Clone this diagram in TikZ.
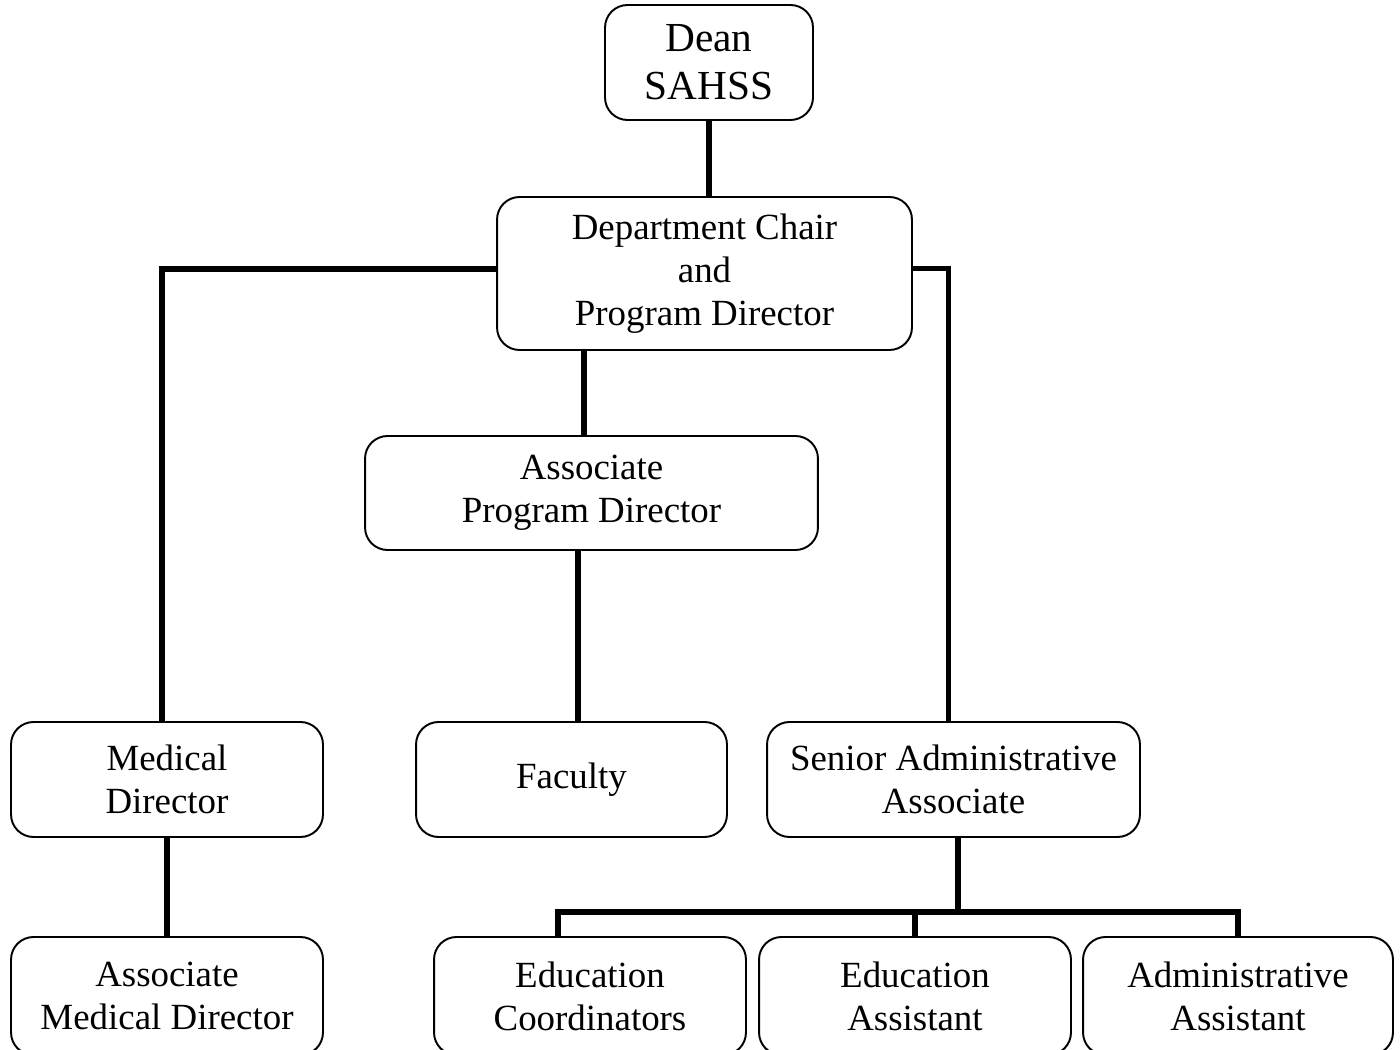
\documentclass[tikz,border=0pt]{standalone}
\usepackage{fontspec}
\setmainfont{Liberation Serif}

\begin{document}
\begin{tikzpicture}[x=0.02cm, y=-0.02cm, line join=miter,
        box/.style={draw, line width=1.1pt, rounded corners=0.45cm, fill=white,
            align=center, inner sep=0pt, font=\fontsize{21}{24.5}\selectfont},
        link/.style={line width=3.2pt}]

        \useasboundingbox (0,0) rectangle (1400,1050);

        % ==========================================
        % 1. Vertice: Dean e Department Chair
        % ==========================================
        \node[box, minimum width=4.16cm, minimum height=2.3cm,
              font=\fontsize{23.5}{27.5}\selectfont] (dean) at (709, 62.5) {Dean\\SAHSS};
        \node[box, minimum width=8.3cm, minimum height=3.06cm] (chair) at (704.5, 273.5)
            {Department Chair\\and\\Program Director};

        % ==========================================
        % 2. Livello intermedio
        % ==========================================
        \node[box, minimum width=9.06cm, minimum height=2.28cm] (apd) at (591.5, 493)
            {Associate\\Program Director};

        \node[box, minimum width=6.24cm, minimum height=2.3cm] (meddir) at (167, 779.5)
            {Medical\\Director};
        \node[box, minimum width=6.22cm, minimum height=2.3cm] (faculty) at (571.5, 779.5)
            {Faculty};
        \node[box, minimum width=7.46cm, minimum height=2.3cm] (senior) at (953.5, 779.5)
            {Senior Administrative\\Associate};

        % ==========================================
        % 3. Ultima riga (tagliata dal bordo inferiore)
        % ==========================================
        \node[box, minimum width=6.24cm, minimum height=2.36cm] (assocmed) at (167, 996)
            {Associate\\Medical Director};
        \node[box, minimum width=6.24cm, minimum height=2.36cm] (educoord) at (590, 996)
            {Education\\Coordinators};
        \node[box, minimum width=6.24cm, minimum height=2.36cm] (eduasst) at (915, 996)
            {Education\\Assistant};
        \node[box, minimum width=6.2cm, minimum height=2.36cm] (adminasst) at (1238, 996)
            {Administrative\\Assistant};

        % ==========================================
        % 4. Collegamenti
        % ==========================================
        \draw[link] (dean.south) -- (dean.south |- chair.north);
        \draw[link] ([yshift=0.09cm]chair.west) -| ([xshift=-0.1cm]meddir.north);
        \draw[link] ([yshift=0.1cm]chair.east) -| ([xshift=-0.1cm]senior.north);
        \draw[link] ([xshift=-0.15cm]apd.north) -- ([xshift=-0.15cm]apd.north |- chair.south);
        \draw[link] ([xshift=0.13cm]faculty.north) -- ([xshift=0.13cm]faculty.north |- apd.south);
        \draw[link] (meddir.south) -- (assocmed.north);

        % barra orizzontale sotto Senior Administrative Associate
        \coordinate (bus) at (958, 912);
        \draw[link] (bus |- senior.south) -- (bus);
        \draw[link] ([xshift=-0.64cm]educoord.north) |- (bus);
        \draw[link] (adminasst.north) |- (bus);
        \draw[link] (eduasst.north) -- (eduasst.north |- bus);

    \end{tikzpicture}
\end{document}
